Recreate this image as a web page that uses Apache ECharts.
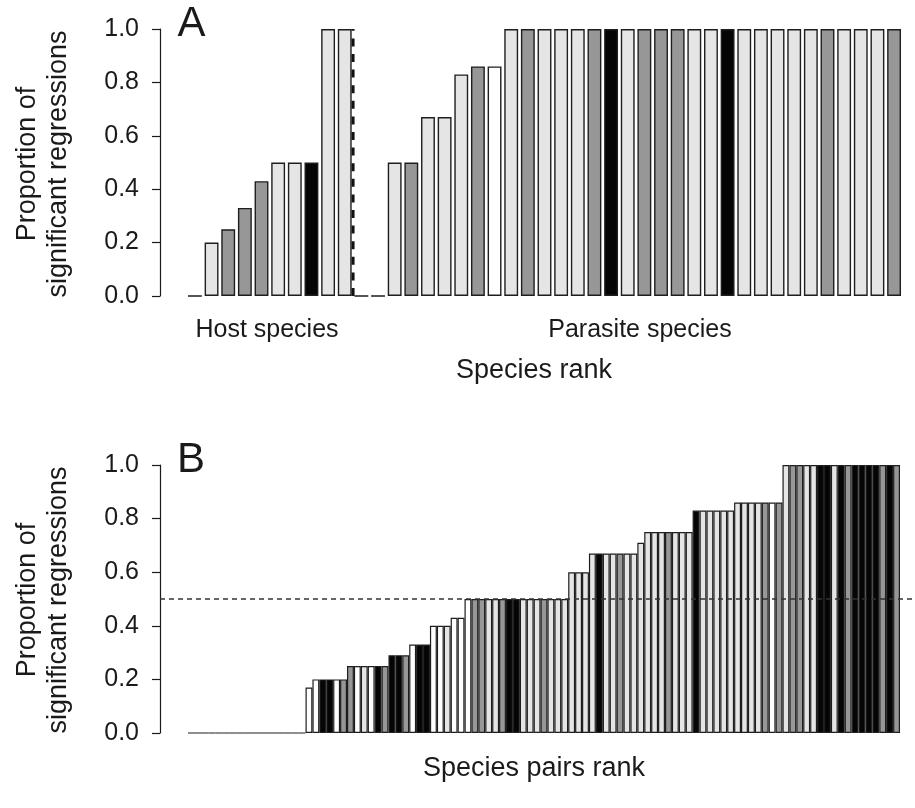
<!DOCTYPE html>
<html><head><meta charset="utf-8">
<script src="https://cdn.jsdelivr.net/npm/echarts@6/dist/echarts.min.js"></script>
<style>html,body{margin:0;padding:0;background:#fff}#c{width:915px;height:808px}</style>
</head><body><div id="c"></div>
<script>
// ---------- data ----------
const yTickValues = [0, 0.2, 0.4, 0.6, 0.8, 1.0];

const hostValues = [0, 0.2, 0.25, 0.33, 0.43, 0.5, 0.5, 0.5, 1, 1];
const hostShades = ['L','L','G','G','G','L','L','B','L','L'];

const parasiteValues = [0, 0, 0.5, 0.5, 0.67, 0.67, 0.83, 0.86, 0.86,
  1, 1, 1, 1, 1, 1, 1, 1, 1, 1, 1, 1, 1, 1, 1, 1, 1, 1, 1, 1, 1, 1, 1, 1];
const parasiteShades = ['L','L','L','G','L','L','L','G','W',
  'L','G','L','L','L','G','B','L','G','G','G','L','L','B','L','L','L','L','L','G','L','L','L','G'];

const pairValues = [
  0, 0, 0, 0, 0, 0, 0, 0, 0, 0, 0, 0, 0, 0, 0, 0, 0,
  0.17,
  0.2, 0.2, 0.2, 0.2, 0.2,
  0.25, 0.25, 0.25, 0.25, 0.25, 0.25,
  0.29, 0.29, 0.29,
  0.33, 0.33, 0.33,
  0.4, 0.4, 0.4,
  0.43, 0.43,
  0.5, 0.5, 0.5, 0.5, 0.5, 0.5, 0.5, 0.5, 0.5, 0.5, 0.5, 0.5, 0.5, 0.5, 0.5,
  0.6, 0.6, 0.6,
  0.67, 0.67, 0.67, 0.67, 0.67, 0.67, 0.67,
  0.71,
  0.75, 0.75, 0.75, 0.75, 0.75, 0.75, 0.75,
  0.83, 0.83, 0.83, 0.83, 0.83, 0.83,
  0.86, 0.86, 0.86, 0.86, 0.86, 0.86, 0.86,
  1, 1, 1, 1, 1, 1, 1, 1, 1, 1, 1, 1, 1, 1, 1, 1, 1
];
const pairShades = [
  'L','L','L','L','L','L','L','L','L','L','L','L','L','L','L','L','L',
  'W',
  'W','B','B','W','G',
  'G','W','L','W','B','G',
  'B','B','G',
  'W','B','B',
  'W','W','L',
  'W','W',
  'W','G','G','L','L','G','B','B','L','L','L','G','L','L','L',
  'L','L','L',
  'L','B','L','L','G','L','L',
  'L',
  'L','L','L','G','L','L','L',
  'B','L','L','L','L','L',
  'L','L','L','L','G','W','G',
  'L','G','G','L','L','B','B','L','B','G','B','B','B','B','G','B','G'
];

const hLine = 0.5;
const panelLetters = ['A', 'B'];
const groupLabels = ['Host species', 'Parasite species'];
const xTitles = ['Species rank', 'Species pairs rank'];
const yTitle = ['Proportion of', 'significant regressions'];

// ---------- styling ----------
const shadeColor = { W: '#ffffff', L: '#e5e5e5', G: '#979797', B: '#050505' };
const FONT = '"Liberation Sans", Arial, Helvetica, sans-serif';
const INK = '#1a1a1a';
const TICK_FS = 25, LAB_FS = 25, TITLE_FS = 27;

const aValues = hostValues.concat(parasiteValues);
const aShades = hostShades.concat(parasiteShades);

function barData(values, shades) {
  return values.map((v, i) => ({ value: v, itemStyle: { color: shadeColor[shades[i]] } }));
}

function visibleY(grid, offset) {
  return {
    gridIndex: grid, type: 'value', min: 0, max: 1, interval: 0.2, offset: offset,
    axisLine: { show: true, onZero: false, lineStyle: { color: INK, width: 1.2 } },
    axisTick: { show: true, inside: false, length: 8, lineStyle: { color: INK, width: 1.2 } },
    axisLabel: { margin: 21, fontSize: TICK_FS, color: INK, fontFamily: FONT,
      formatter: v => v.toFixed(1) },
    splitLine: { show: false }
  };
}

const chart = echarts.init(document.getElementById('c'), null, { renderer: 'canvas' });

function txt(text, x, y, size, rot) {
  return {
    type: 'text', x: x, y: y, rotation: rot || 0, silent: true,
    style: { text: text, fontSize: size, fontFamily: FONT, fill: INK,
      align: 'center', verticalAlign: 'middle' }
  };
}

chart.setOption({
  animation: false,
  backgroundColor: '#ffffff',
  grid: [
    { left: 186.6, right: 12.6, top: 29, height: 267 },
    { left: 188, right: 15, top: 465, height: 268 },
    { left: 160, right: 0, top: 465, height: 268 }
  ],
  xAxis: [
    { gridIndex: 0, type: 'category', data: aValues.map((_, i) => String(i + 1)), show: false },
    { gridIndex: 1, type: 'category', data: pairValues.map((_, i) => String(i + 1)), show: false },
    { gridIndex: 0, type: 'value', min: 0, max: aValues.length, show: false },
    { gridIndex: 2, type: 'value', min: 0, max: 1, show: false }
  ],
  yAxis: [
    visibleY(0, 26.6),
    visibleY(1, 28),
    { gridIndex: 2, type: 'value', min: 0, max: 1, show: false }
  ],
  series: [
    {
      type: 'bar', xAxisIndex: 0, yAxisIndex: 0, barCategoryGap: '16.67%',
      data: barData(aValues, aShades),
      itemStyle: { borderColor: '#1e1e1e', borderWidth: 1.4 },
      silent: true
    },
    {
      type: 'bar', xAxisIndex: 1, yAxisIndex: 1, barCategoryGap: '0%',
      data: barData(pairValues, pairShades),
      itemStyle: { borderColor: '#1e1e1e', borderWidth: 1.2 },
      silent: true
    },
    {
      type: 'line', xAxisIndex: 2, yAxisIndex: 0, symbol: 'none', silent: true, z: 5,
      data: [[hostValues.length, 0], [hostValues.length, 1]],
      lineStyle: { color: '#111', width: 3, type: [8, 7.6] }
    },
    {
      type: 'line', xAxisIndex: 3, yAxisIndex: 2, symbol: 'none', silent: true, z: 5,
      data: [[0, hLine], [1, hLine]],
      lineStyle: { color: '#333', width: 1.3, type: [5, 4] }
    }
  ],
  graphic: [
    txt(panelLetters[0], 191.5, 24, 42),
    txt(panelLetters[1], 191, 460, 42),
    txt(groupLabels[0], 267, 330, LAB_FS),
    txt(groupLabels[1], 640, 330, LAB_FS),
    txt(xTitles[0], 534, 371, TITLE_FS),
    txt(xTitles[1], 534, 769, TITLE_FS),
    txt(yTitle[0], 28, 164, TITLE_FS, Math.PI / 2),
    txt(yTitle[1], 59, 164, TITLE_FS, Math.PI / 2),
    txt(yTitle[0], 28, 600, TITLE_FS, Math.PI / 2),
    txt(yTitle[1], 59, 600, TITLE_FS, Math.PI / 2)
  ]
});
</script>
</body></html>
